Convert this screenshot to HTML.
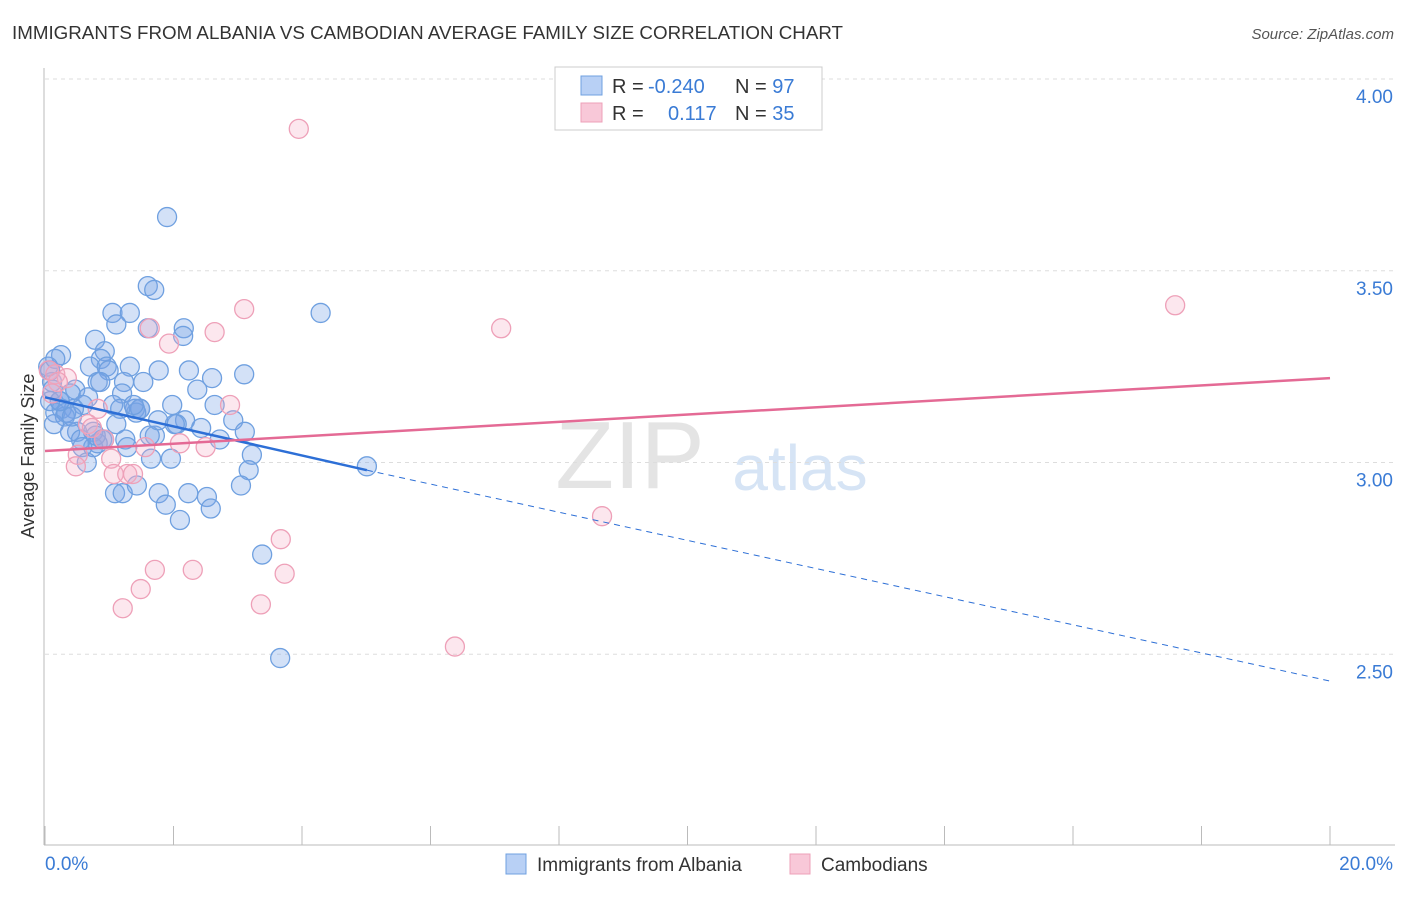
<!DOCTYPE html>
<html><head><meta charset="utf-8"><style>
body{margin:0;background:#fff;font-family:"Liberation Sans",sans-serif}
svg text{font-family:"Liberation Sans",sans-serif}
</style></head><body>
<svg id="chart" width="1406" height="892">
<text x="12" y="39" font-size="18" fill="#333" textLength="831" lengthAdjust="spacingAndGlyphs">IMMIGRANTS FROM ALBANIA VS CAMBODIAN AVERAGE FAMILY SIZE CORRELATION CHART</text>
<text x="1394" y="39" font-size="15" fill="#555" font-style="italic" text-anchor="end">Source: ZipAtlas.com</text>
<text x="630" y="488" font-size="96" fill="#e4e4e4" font-family="Liberation Serif" text-anchor="middle">ZIP</text>
<text x="800" y="490" font-size="64" fill="#d6e4f5" text-anchor="middle">atlas</text>
<g id="grid"></g><g id="axes"></g><g id="marks"></g>
<text transform="translate(34,456) rotate(-90)" font-size="18" fill="#333" text-anchor="middle">Average Family Size</text>
<g>
<rect x="555" y="67" width="267" height="63" fill="#fff" stroke="#ccc"/>
<rect x="581" y="76" width="21" height="19" fill="#b8d0f5" stroke="#6fa0e0"/>
<rect x="581" y="103" width="21" height="19" fill="#f8c8d8" stroke="#eea0b8"/>
<text x="612" y="93" font-size="20" fill="#333">R = <tspan fill="#3a7bd5" x="648">-0.240</tspan><tspan x="735">N = </tspan><tspan fill="#3a7bd5">97</tspan></text>
<text x="612" y="120" font-size="20" fill="#333">R = <tspan fill="#3a7bd5" x="668">0.117</tspan><tspan x="735">N = </tspan><tspan fill="#3a7bd5">35</tspan></text>
</g>
<g>
<rect x="506" y="854" width="20" height="20" fill="#b8d0f5" stroke="#6fa0e0"/>
<text x="537" y="871" font-size="19" fill="#333">Immigrants from Albania</text>
<rect x="790" y="854" width="20" height="20" fill="#f8c8d8" stroke="#eea0b8"/>
<text x="821" y="871" font-size="19" fill="#333">Cambodians</text>
</g>
</svg>
<script>
const yTicks=[2.5,3.0,3.5,4.0];
const yTickLabels=["2.50","3.00","3.50","4.00"];
const xTickVals=[0,2,4,6,8,10,12,14,16,18,20];
const albaniaX=[1.9,1.6,1.7,1.05,1.32,1.11,1.6,2.16,2.15,4.29,0.78,0.25,0.93,0.87,0.7,1.32,0.96,1.77,0.99,2.24,3.1,2.6,0.11,0.82,1.23,1.53,0.12,0.47,0.4,1.2,2.37,0.67,0.23,1.06,0.59,1.48,0.26,0.45,0.16,1.4,1.98,2.64,1.42,1.48,1.17,0.31,2.18,2.05,2.93,0.14,1.11,2.02,2.43,0.5,3.11,0.75,0.39,1.71,1.63,1.25,0.56,0.89,2.72,1.28,0.75,0.58,0.82,1.65,1.96,0.65,3.22,3.17,5.01,3.05,1.09,1.21,1.43,1.77,2.23,2.52,1.88,2.58,2.1,3.38,3.66,0.05,0.08,0.16,0.33,0.79,0.92,1.38,1.76,0.42,0.08,0.23,0.86];
const albaniaY=[3.64,3.46,3.45,3.39,3.39,3.36,3.35,3.35,3.33,3.39,3.32,3.28,3.29,3.27,3.25,3.25,3.25,3.24,3.24,3.24,3.23,3.22,3.21,3.21,3.21,3.21,3.19,3.19,3.18,3.18,3.19,3.17,3.16,3.15,3.15,3.14,3.14,3.14,3.13,3.14,3.15,3.15,3.13,3.14,3.14,3.12,3.11,3.10,3.11,3.10,3.10,3.10,3.09,3.08,3.08,3.08,3.08,3.07,3.07,3.06,3.06,3.06,3.06,3.04,3.04,3.04,3.05,3.01,3.01,3.00,3.02,2.98,2.99,2.94,2.92,2.92,2.94,2.92,2.92,2.91,2.89,2.88,2.85,2.76,2.49,3.25,3.24,3.27,3.13,3.07,3.06,3.15,3.11,3.12,3.16,3.16,3.21];
const cambodiaX=[3.95,3.1,2.64,1.63,1.93,7.1,17.59,0.06,0.16,0.34,0.2,0.11,0.82,0.67,2.88,0.73,0.92,1.56,2.1,2.5,0.51,0.48,1.03,1.07,1.28,1.37,3.67,8.67,1.71,2.3,3.73,1.49,1.21,3.36,6.38];
const cambodiaY=[3.87,3.40,3.34,3.35,3.31,3.35,3.41,3.24,3.23,3.22,3.21,3.18,3.14,3.10,3.15,3.09,3.06,3.04,3.05,3.04,3.02,2.99,3.01,2.97,2.97,2.97,2.80,2.86,2.72,2.72,2.71,2.67,2.62,2.63,2.52];
const blueTrend=[[0,3.17],[5.01,2.98],[20,2.43]];
const pinkTrend=[[0,3.03],[20,3.22]];
const NS="http://www.w3.org/2000/svg";
const X=v=>45+v/20*1285, Y=v=>79+(4-v)*383.5;
function mk(tag,attrs,parent){const e=document.createElementNS(NS,tag);for(const k in attrs)e.setAttribute(k,attrs[k]);document.getElementById(parent).appendChild(e);return e;}
yTicks.forEach((t,i)=>{
 const g=mk('line',{x1:45,x2:1395,y1:Y(t),y2:Y(t),stroke:'#ddd','stroke-dasharray':'4,4'},'grid');
 
 
 const l=mk('text',{x:1393,y:Y(t)+24,'font-size':19,fill:'#3a7bd5','text-anchor':'end'},'axes');
 l.textContent=yTickLabels[i];
 
 
});
const ax=mk('line',{x1:44,x2:44,y1:68,y2:845,stroke:'#bbb'},'axes');


const bx=mk('line',{x1:44,x2:1395,y1:845,y2:845,stroke:'#bbb'},'axes');


xTickVals.forEach(t=>{
 const tk=mk('line',{x1:X(t),x2:X(t),y1:826,y2:845,stroke:'#bbb'},'axes');
 
 
});
const xl=mk('text',{x:45,y:870,'font-size':19,fill:'#3a7bd5'},'axes');xl.textContent='0.0%';


const xr=mk('text',{x:1393,y:870,'font-size':19,fill:'#3a7bd5','text-anchor':'end'},'axes');xr.textContent='20.0%';


albaniaX.forEach((x,i)=>{
 const c=mk('circle',{cx:X(x),cy:Y(albaniaY[i]),r:9.5,fill:'rgba(120,165,230,0.33)',stroke:'#6fa0e0','stroke-width':1.3},'marks');
 
 
});
cambodiaX.forEach((x,i)=>{
 const c=mk('circle',{cx:X(x),cy:Y(cambodiaY[i]),r:9.5,fill:'rgba(245,175,200,0.3)',stroke:'#eea0b8','stroke-width':1.3},'marks');
 
 
});
const b1=mk('line',{x1:X(blueTrend[0][0]),y1:Y(blueTrend[0][1]),x2:X(blueTrend[1][0]),y2:Y(blueTrend[1][1]),stroke:'#2d6fd6','stroke-width':2.5},'marks');


const b2=mk('line',{x1:X(blueTrend[1][0]),y1:Y(blueTrend[1][1]),x2:X(blueTrend[2][0]),y2:Y(blueTrend[2][1]),stroke:'#2d6fd6','stroke-width':1,'stroke-dasharray':'6,5'},'marks');


const p1=mk('line',{x1:X(pinkTrend[0][0]),y1:Y(pinkTrend[0][1]),x2:X(pinkTrend[1][0]),y2:Y(pinkTrend[1][1]),stroke:'#e46a95','stroke-width':2.5},'marks');


</script>
</body></html>
